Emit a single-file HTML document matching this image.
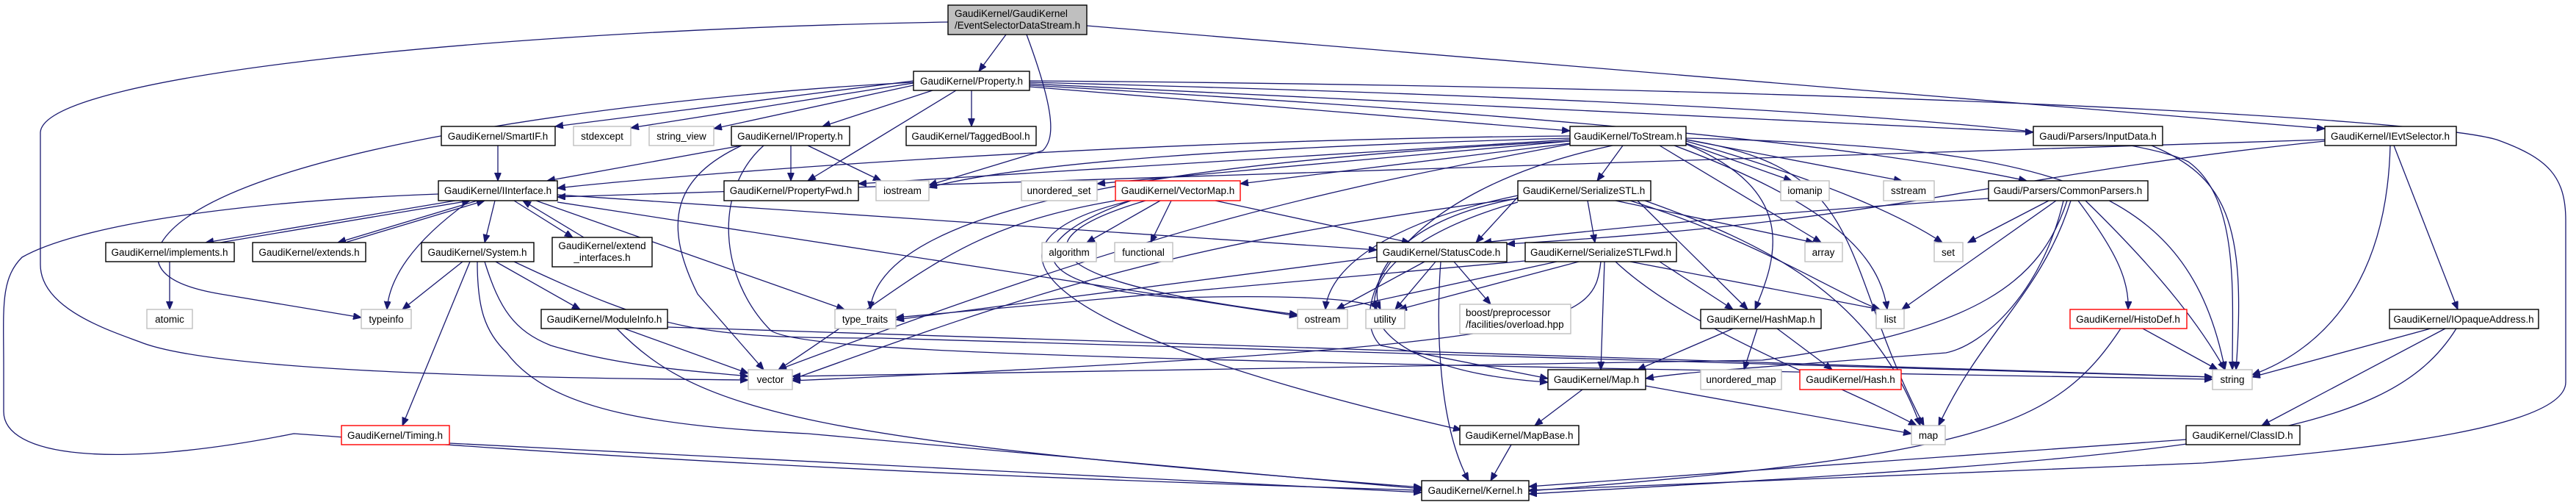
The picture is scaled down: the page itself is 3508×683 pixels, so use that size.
<!DOCTYPE html>
<html><head><meta charset="utf-8"><style>
html,body{margin:0;padding:0;background:#fff;}
svg{display:block;}
text{font-family:"Liberation Sans",sans-serif;font-size:13.5px;fill:#000;}
.e path{fill:none;stroke:#191970;stroke-width:1.3;marker-end:url(#a);}
rect{stroke-width:1.4;fill:#fff;}
.b{stroke:#000;} .g{stroke:#bfbfbf;} .r{stroke:#ff0000;}
</style></head><body>
<svg width="3508" height="683" viewBox="0 0 3508 683" xmlns="http://www.w3.org/2000/svg">
<defs><marker id="a" markerWidth="12" markerHeight="10" refX="11" refY="4.5" orient="auto" markerUnits="userSpaceOnUse"><path d="M0,0 L11,4.5 L0,9 z" fill="#191970" stroke="#191970"/></marker></defs>
<g class="e">
<path d="M1370,47 L1333,97"/>
<path d="M1398,47 C1440,160 1435,190 1420,205 L1265,252"/>
<path d="M1291,30 C700,40 60,100 55,180 L55,360 C55,420 150,450 190,465 C300,510 800,515 1019,517"/>
<path d="M1480,35 L3166,175"/>
<path d="M1402,110 C2500,118 3300,160 3400,190 C3470,215 3494,240 3494,300 L3494,520 C3494,580 3250,610 3000,630 L2082,667"/>
<path d="M1244,110 L756,172"/>
<path d="M1244,113 L859,174"/>
<path d="M1244,116 L972,175"/>
<path d="M1270,123 L1120,172"/>
<path d="M1302,123 L1100,246"/>
<path d="M1323,123 L1323,172"/>
<path d="M1402,118 L2138,178"/>
<path d="M1402,114 L2769,180"/>
<path d="M1402,116 C2000,150 2500,190 2760,246"/>
<path d="M1402,112 C2500,140 2900,180 2980,220 C3050,270 3040,400 3040,503"/>
<path d="M1244,112 C900,130 300,200 220,330 C200,370 240,390 300,400 L492,432"/>
<path d="M678,198 L678,246"/>
<path d="M1010,198 L745,246"/>
<path d="M1077,198 L1077,246"/>
<path d="M1100,198 L1200,246"/>
<path d="M1010,198 C920,240 900,300 950,400 L1040,503"/>
<path d="M1040,198 C970,260 980,380 1050,450 C1100,480 1500,490 3013,516"/>
<path d="M620,273 L280,330"/>
<path d="M300,330 L640,273"/>
<path d="M650,273 L460,330"/>
<path d="M470,330 L660,273"/>
<path d="M700,273 L780,323"/>
<path d="M795,323 L712,273"/>
<path d="M674,273 L660,330"/>
<path d="M640,273 C560,330 530,380 527,421"/>
<path d="M730,273 L1150,421"/>
<path d="M759,265 L1875,340"/>
<path d="M759,275 L1767,430"/>
<path d="M597,264 C300,275 100,310 30,350 C0,380 5,420 5,500 L5,560 C5,620 150,640 400,590 C550,600 1000,640 1936,667"/>
<path d="M231,356 L231,421"/>
<path d="M630,356 L548,421"/>
<path d="M675,356 L790,421"/>
<path d="M660,356 C680,420 700,450 750,470 C850,500 950,505 1019,512"/>
<path d="M640,356 L548,579"/>
<path d="M650,356 C650,420 660,450 690,480 C750,560 900,580 1100,590 L1936,665"/>
<path d="M700,356 C900,450 950,460 1200,460 L3013,513"/>
<path d="M850,447 L1019,508"/>
<path d="M909,445 L3013,513"/>
<path d="M840,447 C950,560 1100,600 1936,663"/>
<path d="M612,603 L1936,670"/>
<path d="M2138,185 C1500,190 900,240 759,256"/>
<path d="M2138,190 L1169,250"/>
<path d="M2138,188 C1700,200 1400,220 1265,255"/>
<path d="M2138,192 L1494,250"/>
<path d="M2138,195 L1689,250"/>
<path d="M2210,198 L2175,246"/>
<path d="M2296,195 L2440,246"/>
<path d="M2296,190 L2590,246"/>
<path d="M2260,198 L2480,330"/>
<path d="M2296,192 C2500,250 2600,300 2645,330"/>
<path d="M2280,198 C2500,280 2560,350 2570,421"/>
<path d="M2296,190 C2550,230 2500,350 2620,579"/>
<path d="M2296,188 C2800,200 2980,250 3030,503"/>
<path d="M2296,196 C2450,260 2420,350 2390,421"/>
<path d="M2196,198 C1900,260 1830,420 1880,470 L2108,515"/>
<path d="M2138,196 C1800,260 1600,300 1060,503"/>
<path d="M2138,192 C1600,220 1200,280 1185,421"/>
<path d="M1580,273 L1480,330"/>
<path d="M1595,273 L1567,330"/>
<path d="M1655,273 L1920,330"/>
<path d="M1560,273 C1400,320 1380,380 1767,428"/>
<path d="M1540,273 C1380,330 1400,390 1600,405 C1800,400 1870,410 1875,421"/>
<path d="M1519,273 C1300,310 1250,380 1060,503"/>
<path d="M1540,273 C1300,330 1400,450 1990,585"/>
<path d="M2162,273 L2172,330"/>
<path d="M2067,268 L2010,330"/>
<path d="M2067,266 C1900,300 1810,360 1805,421"/>
<path d="M2067,270 C1900,300 1860,380 1880,421"/>
<path d="M2200,273 L2470,330"/>
<path d="M2220,273 C2400,330 2500,400 2560,421"/>
<path d="M2230,273 L2380,421"/>
<path d="M2240,273 C2400,330 2550,400 2615,579"/>
<path d="M2067,275 C1800,350 1800,500 2108,520"/>
<path d="M2067,270 C1600,330 1400,400 1079,516"/>
<path d="M2077,355 L1220,432"/>
<path d="M2120,356 L1820,421"/>
<path d="M2150,356 L1905,421"/>
<path d="M2220,356 L2560,421"/>
<path d="M2260,356 L2360,421"/>
<path d="M2185,356 L2180,503"/>
<path d="M2200,356 C2300,450 2500,520 2610,579"/>
<path d="M2180,356 C2170,440 2150,470 1079,518"/>
<path d="M1875,350 L1220,435"/>
<path d="M1940,356 L1820,421"/>
<path d="M1955,356 L1900,421"/>
<path d="M1980,356 L2030,414"/>
<path d="M1962,356 C1955,450 1960,580 2000,654"/>
<path d="M2708,270 C2400,290 2200,310 2020,330"/>
<path d="M2790,273 L2680,330"/>
<path d="M2800,273 L2590,421"/>
<path d="M2820,273 C2780,400 2700,450 2640,579"/>
<path d="M2840,273 C2950,380 3000,450 3030,503"/>
<path d="M2830,273 C2880,340 2900,380 2898,421"/>
<path d="M2810,273 C2780,400 2700,470 2650,480 C2400,500 2300,505 2241,515"/>
<path d="M2815,273 C2780,380 2700,450 2400,490 L1079,512"/>
<path d="M2393,447 L2375,503"/>
<path d="M2420,447 L2495,503"/>
<path d="M2360,447 L2230,503"/>
<path d="M2155,530 L2090,579"/>
<path d="M2241,525 L2603,590"/>
<path d="M2058,605 L2030,654"/>
<path d="M2918,447 L3020,503"/>
<path d="M2888,447 C2800,580 2700,620 2082,668"/>
<path d="M3255,198 C3250,400 3150,480 3067,510"/>
<path d="M3260,198 L3347,421"/>
<path d="M3166,190 L759,268"/>
<path d="M3166,192 C2700,240 2600,300 2052,332"/>
<path d="M3310,447 L3067,513"/>
<path d="M3330,447 L3080,579"/>
<path d="M3345,447 C3250,600 3000,620 2082,672"/>
<path d="M2977,598 L2082,662"/>
<path d="M2930,198 C3030,240 3060,300 3045,503"/>
</g>
<g text-anchor="middle">
<rect class="b" x="1291" y="7" width="189" height="40" style="fill:#bfbfbf"/>
<text x="1300" y="23" text-anchor="start">GaudiKernel/GaudiKernel</text>
<text x="1300" y="39" text-anchor="start">/EventSelectorDataStream.h</text>
<rect class="b" x="1244" y="97" width="158" height="26"/><text x="1323" y="115">GaudiKernel/Property.h</text>
<rect class="b" x="601" y="172" width="155" height="26"/><text x="678" y="190">GaudiKernel/SmartIF.h</text>
<rect class="g" x="781" y="172" width="78" height="26"/><text x="820" y="190">stdexcept</text>
<rect class="g" x="884" y="172" width="88" height="26"/><text x="928" y="190">string_view</text>
<rect class="b" x="996" y="172" width="161" height="26"/><text x="1076" y="190">GaudiKernel/IProperty.h</text>
<rect class="b" x="1234" y="172" width="177" height="26"/><text x="1322" y="190">GaudiKernel/TaggedBool.h</text>
<rect class="b" x="2138" y="172" width="158" height="26"/><text x="2217" y="190">GaudiKernel/ToStream.h</text>
<rect class="b" x="2769" y="172" width="176" height="26"/><text x="2857" y="190">Gaudi/Parsers/InputData.h</text>
<rect class="b" x="3166" y="172" width="179" height="26"/><text x="3255" y="190">GaudiKernel/IEvtSelector.h</text>
<rect class="b" x="597" y="246" width="162" height="27"/><text x="678" y="264">GaudiKernel/IInterface.h</text>
<rect class="b" x="986" y="246" width="183" height="27"/><text x="1077" y="264">GaudiKernel/PropertyFwd.h</text>
<rect class="g" x="1193" y="246" width="72" height="27"/><text x="1229" y="264">iostream</text>
<rect class="g" x="1391" y="246" width="103" height="27"/><text x="1442" y="264">unordered_set</text>
<rect class="r" x="1519" y="246" width="170" height="27"/><text x="1604" y="264">GaudiKernel/VectorMap.h</text>
<rect class="b" x="2067" y="246" width="181" height="27"/><text x="2157" y="264">GaudiKernel/SerializeSTL.h</text>
<rect class="g" x="2425" y="246" width="66" height="27"/><text x="2458" y="264">iomanip</text>
<rect class="g" x="2565" y="246" width="69" height="27"/><text x="2599" y="264">sstream</text>
<rect class="b" x="2708" y="246" width="217" height="27"/><text x="2816" y="264">Gaudi/Parsers/CommonParsers.h</text>
<rect class="b" x="144" y="330" width="175" height="26"/><text x="231" y="348">GaudiKernel/implements.h</text>
<rect class="b" x="344" y="330" width="154" height="26"/><text x="421" y="348">GaudiKernel/extends.h</text>
<rect class="b" x="574" y="330" width="153" height="26"/><text x="650" y="348">GaudiKernel/System.h</text>
<rect class="b" x="752" y="323" width="136" height="40"/><text x="820" y="339">GaudiKernel/extend</text><text x="820" y="355">_interfaces.h</text>
<rect class="g" x="1419" y="330" width="74" height="26"/><text x="1456" y="348">algorithm</text>
<rect class="g" x="1518" y="330" width="79" height="26"/><text x="1557" y="348">functional</text>
<rect class="b" x="1875" y="330" width="177" height="26"/><text x="1963" y="348">GaudiKernel/StatusCode.h</text>
<rect class="b" x="2077" y="330" width="206" height="26"/><text x="2180" y="348">GaudiKernel/SerializeSTLFwd.h</text>
<rect class="g" x="2458" y="330" width="51" height="26"/><text x="2483" y="348">array</text>
<rect class="g" x="2634" y="330" width="39" height="26"/><text x="2653" y="348">set</text>
<rect class="g" x="200" y="421" width="62" height="26"/><text x="231" y="439">atomic</text>
<rect class="g" x="492" y="421" width="68" height="26"/><text x="526" y="439">typeinfo</text>
<rect class="b" x="737" y="421" width="172" height="26"/><text x="823" y="439">GaudiKernel/ModuleInfo.h</text>
<rect class="g" x="1137" y="421" width="83" height="26"/><text x="1178" y="439">type_traits</text>
<rect class="g" x="1767" y="421" width="68" height="26"/><text x="1801" y="439">ostream</text>
<rect class="g" x="1860" y="421" width="53" height="26"/><text x="1886" y="439">utility</text>
<rect class="g" x="1988" y="414" width="151" height="40"/><text x="1996" y="430" text-anchor="start">boost/preprocessor</text><text x="1996" y="446" text-anchor="start">/facilities/overload.hpp</text>
<rect class="b" x="2316" y="421" width="164" height="26"/><text x="2398" y="439">GaudiKernel/HashMap.h</text>
<rect class="g" x="2555" y="421" width="38" height="26"/><text x="2574" y="439">list</text>
<rect class="r" x="2819" y="421" width="159" height="26"/><text x="2898" y="439">GaudiKernel/HistoDef.h</text>
<rect class="b" x="3254" y="421" width="203" height="26"/><text x="3355" y="439">GaudiKernel/IOpaqueAddress.h</text>
<rect class="g" x="1019" y="503" width="60" height="27"/><text x="1049" y="521">vector</text>
<rect class="b" x="2108" y="503" width="133" height="27"/><text x="2174" y="521">GaudiKernel/Map.h</text>
<rect class="g" x="2316" y="503" width="110" height="27"/><text x="2371" y="521">unordered_map</text>
<rect class="r" x="2451" y="503" width="138" height="27"/><text x="2520" y="521">GaudiKernel/Hash.h</text>
<rect class="g" x="3013" y="503" width="54" height="27"/><text x="3040" y="521">string</text>
<rect class="r" x="465" y="579" width="147" height="26"/><text x="538" y="597">GaudiKernel/Timing.h</text>
<rect class="b" x="1988" y="579" width="162" height="26"/><text x="2069" y="597">GaudiKernel/MapBase.h</text>
<rect class="g" x="2603" y="579" width="46" height="26"/><text x="2626" y="597">map</text>
<rect class="b" x="2977" y="579" width="155" height="26"/><text x="3054" y="597">GaudiKernel/ClassID.h</text>
<rect class="b" x="1936" y="654" width="146" height="27"/><text x="2009" y="672">GaudiKernel/Kernel.h</text>
</g>
</svg>
</body></html>
